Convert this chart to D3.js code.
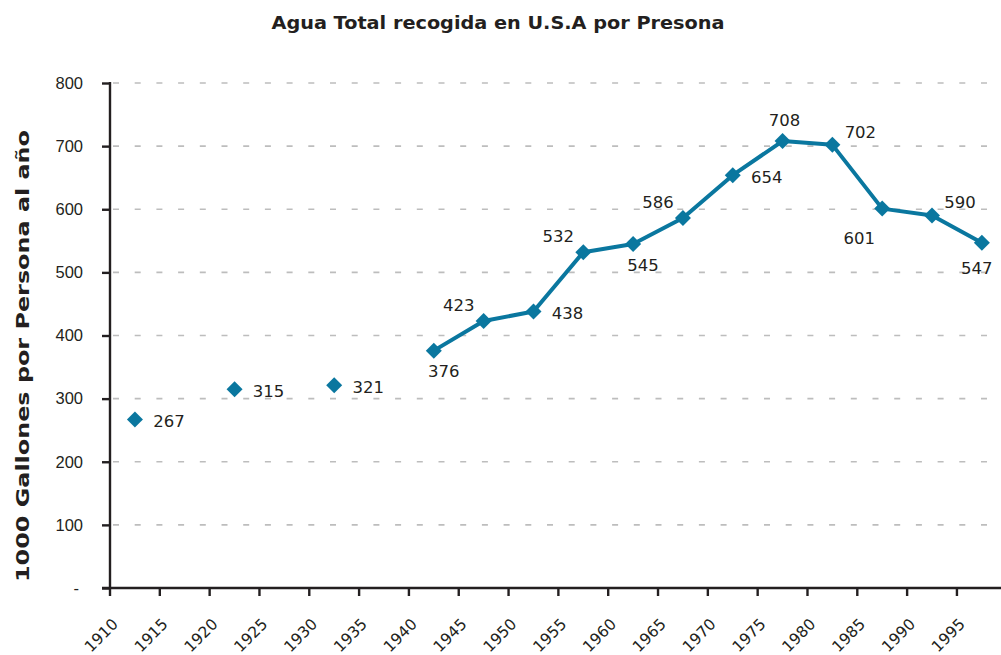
<!DOCTYPE html>
<html>
<head>
<meta charset="utf-8">
<script src="https://cdn.jsdelivr.net/npm/d3@7"></script>
<style>
  html, body { margin: 0; padding: 0; background: #fff; }
  svg { display: block; font-family: "DejaVu Sans", "Open Sans", sans-serif; }
</style>
</head>
<body>
<div id="chart"></div>
<script>
// categories on the x axis (one band per 5 years)
const years = [1910, 1915, 1920, 1925, 1930, 1935, 1940, 1945, 1950,
  1955, 1960, 1965, 1970, 1975, 1980, 1985, 1990, 1995];
// thousand gallons per person per year (null = no data)
const values = [267, null, 315, null, 321, null, 376, 423, 438,
  532, 545, 586, 654, 708, 702, 601, 590, 547];
const yTicks = [0, 100, 200, 300, 400, 500, 600, 700, 800];
// where each value label sits relative to its marker
const labelPlace = ['right', null, 'right', null, 'right', null, 'below', 'upLeft', 'right',
  'upLeft', 'below', 'upLeft', 'right', 'above', 'upRight', 'downLeft', 'upRight', 'belowLeft'];

const title = 'Agua Total recogida en U.S.A por Presona';
const yTitle = '1000 Gallones por Persona al año';

const W = 1001, H = 655;
const margin = { top: 83, left: 110, bottom: 67 };
const ink = '#231f20';
const blue = '#0a779f';

const placeOffsets = {
  right: [34, 2], below: [10, 21], upLeft: [-25, -16], above: [2, -21],
  upRight: [28, -13], downLeft: [-23, 30], belowLeft: [-5, 26]
};

const svg = d3.select('#chart').append('svg')
  .attr('width', W).attr('height', H);

const x = d3.scaleBand()
  .domain(years)
  .range([margin.left, margin.left + years.length * 49.82]);

const y = d3.scaleLinear()
  .domain([0, 800])
  .range([H - margin.bottom, margin.top]);

// title
svg.append('text')
  .attr('x', 498).attr('y', 29)
  .attr('text-anchor', 'middle')
  .style('font-size', '18px').style('font-weight', 'bold')
  .attr('fill', ink)
  .attr('textLength', 453).attr('lengthAdjust', 'spacingAndGlyphs')
  .text(title);

// y title
svg.append('text')
  .attr('transform', 'translate(29,356) rotate(-90)')
  .attr('text-anchor', 'middle')
  .style('font-size', '18.5px').style('font-weight', 'bold')
  .attr('fill', ink)
  .attr('textLength', 452).attr('lengthAdjust', 'spacingAndGlyphs')
  .text(yTitle);

// dashed grid
svg.append('g')
  .selectAll('line')
  .data(yTicks.filter(d => d > 0))
  .join('line')
  .attr('x1', margin.left + 3).attr('x2', W)
  .attr('y1', d => y(d)).attr('y2', d => y(d))
  .attr('stroke', '#bdbdbd').attr('stroke-width', 1.6)
  .attr('stroke-dasharray', '6,15.7');

// y axis
const yAxis = svg.append('g')
  .attr('transform', `translate(${margin.left},0)`)
  .call(d3.axisLeft(y).tickValues(yTicks).tickSize(8).tickPadding(19)
    .tickFormat(d => d === 0 ? '-' : d));
yAxis.select('.domain').attr('stroke', ink).attr('stroke-width', 2.4)
  .attr('d', `M0,${y(800) - 1}V${y(0)}`);
yAxis.selectAll('.tick line').attr('stroke', ink).attr('stroke-width', 2.4);
yAxis.selectAll('.tick text')
  .attr('fill', ink).style('font-size', '16.5px').attr('font-family', null);
yAxis.selectAll('.tick').filter(d => d === 0).select('text').attr('dx', -4);

// x axis, ticks on band edges
const xAxis = svg.append('g')
  .attr('transform', `translate(0,${y(0)})`);
xAxis.append('line')
  .attr('x1', margin.left - 8).attr('x2', W)
  .attr('stroke', ink).attr('stroke-width', 2.4);
const xt = xAxis.selectAll('g.tick')
  .data(years)
  .join('g').attr('class', 'tick')
  .attr('transform', d => `translate(${x(d)},0)`);
xt.append('line').attr('y2', 8).attr('stroke', ink).attr('stroke-width', 2.4);
xt.append('text')
  .attr('transform', 'translate(9,37) rotate(-45)')
  .attr('text-anchor', 'end')
  .style('font-size', '15.5px')
  .attr('fill', ink)
  .text(d => d);

// line through connected years
const pts = years.map((yr, i) => ({ yr, v: values[i], place: labelPlace[i] }));
const cx = d => x(d.yr) + x.bandwidth() / 2;

svg.append('path')
  .datum(pts)
  .attr('fill', 'none')
  .attr('stroke', blue).attr('stroke-width', 4)
  .attr('stroke-linejoin', 'round')
  .attr('d', d3.line().defined(d => d.v !== null).x(cx).y(d => y(d.v)));

const shown = pts.filter(d => d.v !== null);

svg.append('g')
  .selectAll('path')
  .data(shown)
  .join('path')
  .attr('d', d3.symbol(d3.symbolSquare, 128))
  .attr('transform', d => `translate(${cx(d)},${y(d.v)}) rotate(45)`)
  .attr('fill', blue);

svg.append('g')
  .selectAll('text')
  .data(shown)
  .join('text')
  .attr('x', d => cx(d) + placeOffsets[d.place][0])
  .attr('y', d => y(d.v) + placeOffsets[d.place][1])
  .attr('dy', '0.35em')
  .attr('text-anchor', 'middle')
  .style('font-size', '16.5px')
  .attr('fill', ink)
  .text(d => d.v);
</script>
</body>
</html>
